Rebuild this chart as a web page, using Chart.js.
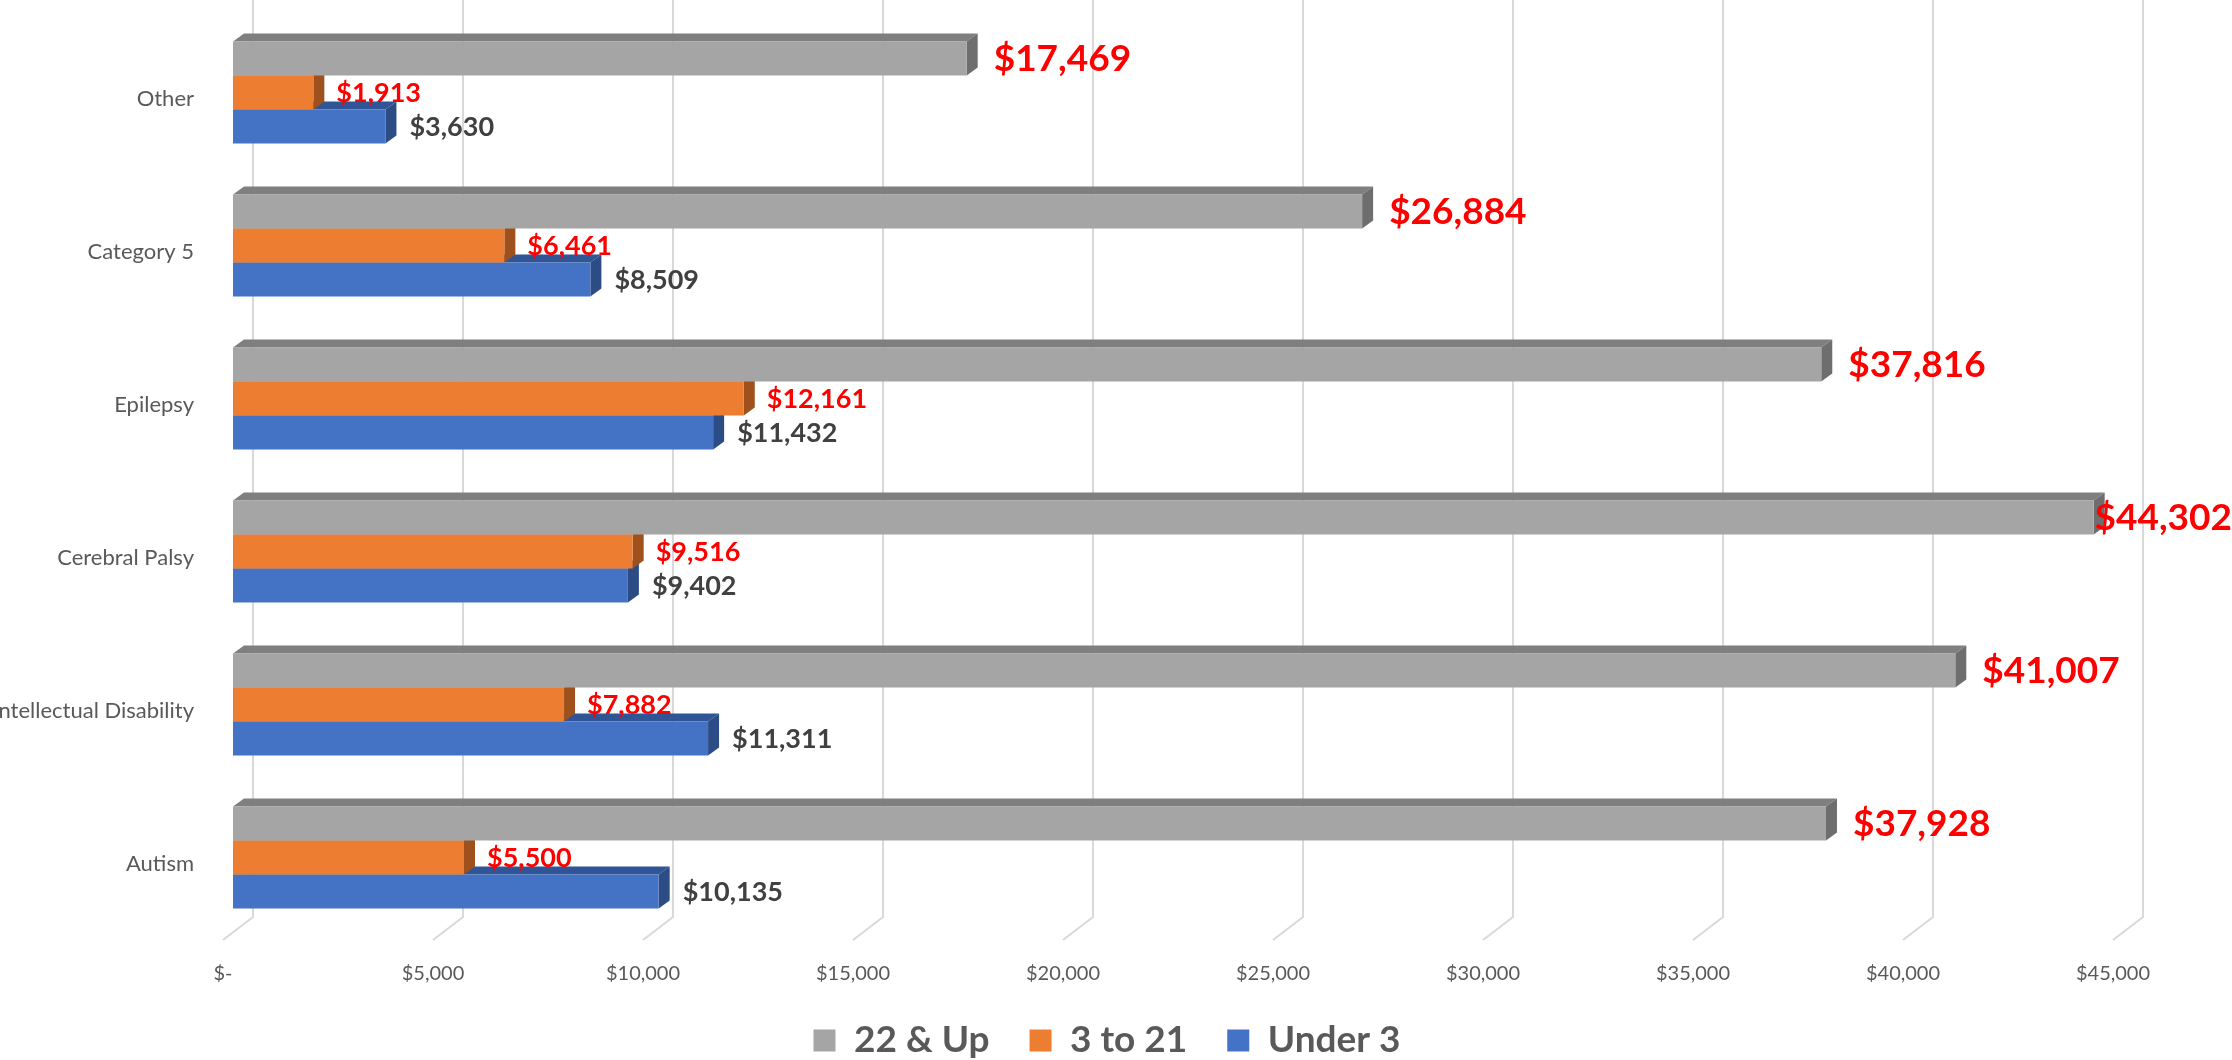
<!DOCTYPE html>
<html>
<head>
<meta charset="utf-8">
<script src="https://cdn.jsdelivr.net/npm/chart.js@4"></script>
<style>
  html, body { margin: 0; padding: 0; background: #fff; }
  #wrap { width: 2232px; height: 1060px; }
</style>
</head>
<body>
<div id="wrap"><canvas id="chartCout" width="2232" height="1060"></canvas></div>
<script>
// categories, top to bottom as shown
const categories = ['Other', 'Category 5', 'Epilepsy', 'Cerebral Palsy', 'Intellectual Disability', 'Autism'];
const seriesNames = ['22 & Up', '3 to 21', 'Under 3'];
const age22Up = [17469, 26884, 37816, 44302, 41007, 37928];
const age3to21 = [1913, 6461, 12161, 9516, 7882, 5500];
const under3 = [3630, 8509, 11432, 9402, 11311, 10135];
const tickLabels = ['$-', '$5,000', '$10,000', '$15,000', '$20,000', '$25,000', '$30,000', '$35,000', '$40,000', '$45,000'];

const couleurs = ['#A5A5A5', '#ED7D31', '#4472C4'];
const faceDessus = ['#7F7F7F', '#AE5A21', '#2F5597'];
const faceCote = ['#6E6E6E', '#9E511C', '#2C4C86'];
const DX = 11, DY = 8;

Chart.defaults.font.family = 'Lato, "Open Sans", sans-serif';

// back-wall gridlines + floor lines
const grille3D = {
  id: 'grille3D',
  beforeDatasetsDraw(chart) {
    const ctx = chart.ctx;
    const xs = chart.scales.x;
    const bas = chart.chartArea.bottom;
    ctx.save();
    ctx.strokeStyle = '#D9D9D9';
    ctx.lineWidth = 2;
    xs.ticks.forEach(t => {
      const xf = xs.getPixelForValue(t.value);
      ctx.beginPath();
      ctx.moveTo(xf + 20, 0);
      ctx.lineTo(xf + 20, bas - 17);
      ctx.lineTo(xf - 10, bas + 6);
      ctx.stroke();
    });
    ctx.restore();
  }
};

// top and side faces of each bar
const faces3D = {
  id: 'faces3D',
  beforeDatasetDraw(chart, args) {
    const ctx = chart.ctx;
    const i = args.index;
    ctx.save();
    args.meta.data.forEach(b => {
      const l = Math.min(b.base, b.x), r = Math.max(b.base, b.x);
      const t = b.y - b.height / 2, bo = b.y + b.height / 2;
      ctx.fillStyle = faceDessus[i];
      ctx.beginPath();
      ctx.moveTo(l, t); ctx.lineTo(l + DX, t - DY); ctx.lineTo(r + DX, t - DY); ctx.lineTo(r, t);
      ctx.closePath(); ctx.fill();
      ctx.fillStyle = faceCote[i];
      ctx.beginPath();
      ctx.moveTo(r, t); ctx.lineTo(r + DX, t - DY); ctx.lineTo(r + DX, bo - DY); ctx.lineTo(r, bo);
      ctx.closePath(); ctx.fill();
    });
    ctx.restore();
  }
};

// value labels
const etiquettes = {
  id: 'etiquettes',
  afterDatasetsDraw(chart) {
    const ctx = chart.ctx;
    const styles = [
      { font: 'bold 37px Lato', color: '#FF0000', gap: 16 },
      { font: 'bold 27px Lato', color: '#FF0000', gap: 12 },
      { font: 'bold 27px Lato', color: '#404040', gap: 13 }
    ];
    ctx.save();
    ctx.textBaseline = 'middle';
    ctx.textAlign = 'left';
    chart.data.datasets.forEach((ds, i) => {
      const meta = chart.getDatasetMeta(i);
      ctx.font = styles[i].font;
      ctx.fillStyle = styles[i].color;
      meta.data.forEach((b, j) => {
        const txt = '$' + ds.data[j].toLocaleString('en-US');
        const w = ctx.measureText(txt).width;
        let x = Math.max(b.base, b.x) + DX + styles[i].gap;
        if (x + w > chart.width) x = chart.width - w;
        ctx.fillText(txt, x, b.y + 1);
      });
    });
    ctx.restore();
  }
};

// legend placement (centred under the plot like the original)
const placeLegende = {
  id: 'placeLegende',
  afterLayout(chart) {
    const lg = chart.legend;
    lg.left = 91; lg.right = 2123;
    lg.top = 982; lg.bottom = 1098;
  }
};

const ctx = document.getElementById('chartCout').getContext('2d');
new Chart(ctx, {
  type: 'bar',
  data: {
    labels: categories,
    datasets: [
      { label: seriesNames[0], data: age22Up, backgroundColor: couleurs[0] },
      { label: seriesNames[1], data: age3to21, backgroundColor: couleurs[1] },
      { label: seriesNames[2], data: under3, backgroundColor: couleurs[2] }
    ]
  },
  options: {
    indexAxis: 'y',
    responsive: false,
    animation: false,
    clip: false,
    categoryPercentage: 0.667,
    barPercentage: 1,
    layout: { padding: { top: 16, left: 0, right: 109, bottom: -21 } },
    scales: {
      x: {
        min: 0, max: 45000,
        grid: { display: false },
        border: { display: false },
        ticks: {
          stepSize: 5000,
          color: '#595959',
          font: { size: 20 },
          padding: 20,
          labelOffset: -10,
          maxRotation: 0,
          callback: (v, idx) => tickLabels[idx]
        },
        afterFit: s => { s.height = 60; s.paddingLeft = 0; s.paddingRight = 0; }
      },
      y: {
        grid: { display: false },
        border: { display: false },
        ticks: { color: '#595959', font: { size: 22 }, padding: 31, labelOffset: 6 },
        afterFit: s => { s.width = 233; s.paddingTop = 0; s.paddingBottom = 0; }
      }
    },
    plugins: {
      legend: {
        position: 'bottom',
        labels: {
          boxWidth: 22, boxHeight: 22, padding: 40,
          color: '#595959',
          font: { size: 37, weight: 'bold' }
        }
      },
      tooltip: { enabled: false }
    }
  },
  plugins: [grille3D, faces3D, etiquettes, placeLegende]
});
</script>
</body>
</html>
